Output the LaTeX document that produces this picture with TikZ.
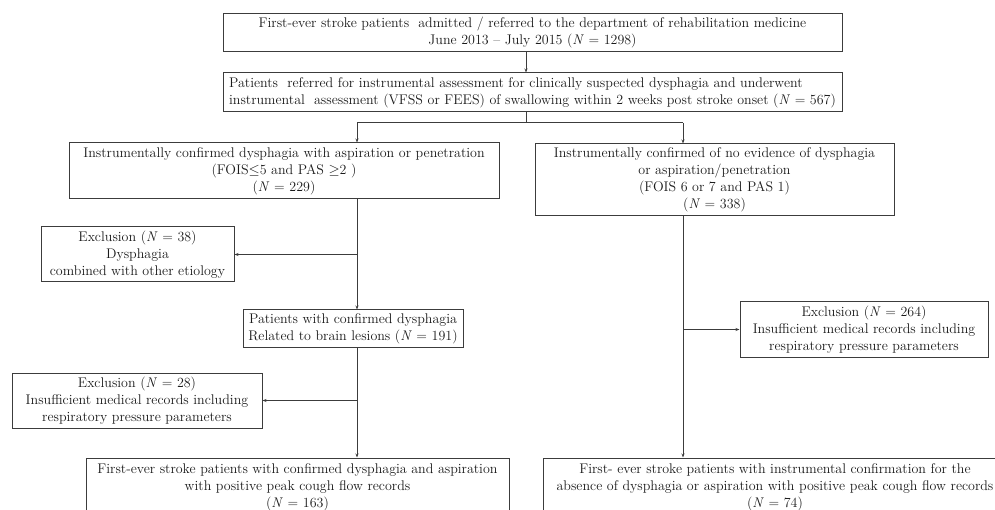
\documentclass[tikz,border=0pt]{standalone}
\usepackage{amsmath,amssymb}
\usetikzlibrary{arrows.meta}
\definecolor{linegray}{HTML}{3C3C3C}
\definecolor{textgray}{HTML}{1A1A1A}

\begin{document}
\begin{tikzpicture}[x=1pt,y=-1pt,
    box/.style={draw=linegray,line width=1pt,align=center,inner sep=2pt,
      text=textgray,font=\fontsize{14}{17}\selectfont},
    arr/.style={draw=linegray,line width=1pt,-{Stealth[length=4pt,width=3pt]}},
    ln/.style={draw=linegray,line width=1pt}]
\useasboundingbox (0,0) rectangle (995,510);
\clip (0,0) rectangle (995,510);
					\node[box,minimum width=619,minimum height=38] (start) at (532.5,33) {First-ever stroke patients\ \ admitted / referred to the department of rehabilitation medicine\\ June 2013 -- July 2015 (\textit{N} = 1298)};
					\node[box,align=left,minimum width=619,minimum height=39] (assess) at (532.5,92.5) {Patients\ \ referred for instrumental assessment for clinically suspected dysphagia and underwent\\ instrumental\ \ assessment (VFSS or FEES) of swallowing within 2 weeks post stroke onset (\textit{N} = 567)};
					\node[box,minimum width=430,minimum height=56] (dys) at (284,171) {Instrumentally confirmed dysphagia with aspiration or penetration\\ (FOIS$\leq$5 and PAS $\geq$2 )\\ (\textit{N} = 229)};
					\node[box,minimum width=359,minimum height=72] (nodys) at (714.5,180) {Instrumentally confirmed of no evidence of dysphagia\\ or aspiration/penetration\\ (FOIS 6 or 7 and PAS 1)\\ (\textit{N} = 338)};
					\node[box,minimum width=193,minimum height=55] (exca) at (137.5,254.5) {Exclusion (\textit{N} = 38)\\ Dysphagia\\ combined with other etiology};
					\node[box,minimum width=220,minimum height=37] (brain) at (353,328.5) {Patients with confirmed dysphagia\\ Related to brain lesions (\textit{N} = 191)};
					\node[box,minimum width=250,minimum height=55] (excb) at (137,400.5) {Exclusion (\textit{N} = 28)\\ Insufficient medical records including\\ respiratory pressure parameters};
					\node[box,minimum width=248,minimum height=55] (excc) at (864,329.5) {Exclusion (\textit{N} = 264)\\ Insufficient medical records including\\ respiratory pressure parameters};
					\node[box,minimum width=423,minimum height=58] (finl) at (297.5,487) {First-ever stroke patients with confirmed dysphagia and aspiration\\ with positive peak cough flow records\\ (\textit{N} = 163)};
					\node[box,minimum width=464,minimum height=58] (finr) at (775,487) {First- ever stroke patients with instrumental confirmation for the\\ absence of dysphagia or aspiration with positive peak cough flow records\\ (\textit{N} = 74)};
					\coordinate (split) at (526,123);
					\coordinate (lcol) at (357,123);
					\coordinate (rcol) at (683,123);
					\draw[arr] (start.south -| split) -- (assess.north -| split);
					\draw[ln] (assess.south -| split) -- (split);
					\draw[ln] (lcol) -- (rcol);
					\draw[arr] (lcol) -- (lcol |- dys.north);
					\draw[arr] (rcol) -- (rcol |- nodys.north);
					\draw[arr] (lcol |- dys.south) -- (lcol |- brain.north);
					\draw[arr] (lcol |- exca.east) -- (exca.east);
					\draw[arr] (lcol |- brain.south) -- (lcol |- finl.north);
					\draw[arr] (lcol |- excb.east) -- (excb.east);
					\draw[arr] (rcol |- nodys.south) -- (rcol |- finr.north);
					\draw[arr] (rcol |- excc.west) -- (excc.west);
				\end{tikzpicture}
\end{document}
